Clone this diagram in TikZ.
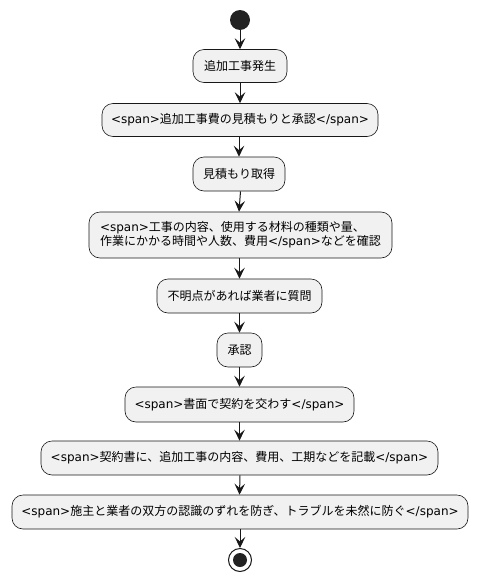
\documentclass[tikz,border=0pt]{standalone}
\usepackage{fontspec}
\setmainfont{Noto Sans CJK JP}
\newfontfamily\dvfont{DejaVu Sans}
\newcommand\dv[1]{{\dvfont #1}}
\usetikzlibrary{arrows.meta}
\definecolor{boxfill}{HTML}{F1F1F1}
\definecolor{boxline}{HTML}{181818}
\definecolor{dotfill}{HTML}{222222}
\tikzset{
  act/.style={draw=boxline, fill=boxfill, line width=0.6pt, rounded corners=11pt,
    minimum height=33pt, inner sep=0pt, font=\fontsize{12}{14}\selectfont, align=center},
  flow/.style={draw=boxline, line width=1pt, -{Stealth[length=11pt,width=10.5pt,inset=4.5pt]}},
}
\begin{document}
\begin{tikzpicture}[x=1pt,y=-1pt]
\useasboundingbox (0,0) rectangle (478,581);
\node[circle, fill=dotfill, minimum size=20pt, inner sep=0pt] (start) at (240,20) {};
\node[act, minimum width=94pt] (a1) at (240,66) {追加工事発生};
\node[act, minimum width=276pt] (a2) at (240,120) {\dv{<span>}追加工事費の見積もりと承認\dv{</span>}};
\node[act, minimum width=92pt, minimum height=34pt] (a3) at (239,174) {見積もり取得};
\node[act, minimum width=303pt, minimum height=46pt, align=left] (a4) at (240.5,235) {\dv{<span>}工事の内容、使用する材料の種類や量、\\作業にかかる時間や人数、費用\dv{</span>}などを確認};
\node[act, minimum width=165pt, minimum height=34pt] (a5) at (239.5,296) {不明点があれば業者に質問};
\node[act, minimum width=45pt, minimum height=34pt] (a6) at (239.5,350) {承認};
\node[act, minimum width=229pt, minimum height=35pt] (a7) at (239.5,404.5) {\dv{<span>}書面で契約を交わす\dv{</span>}};
\node[act, minimum width=397pt, minimum height=34pt] (a8) at (239.5,458) {\dv{<span>}契約書に、追加工事の内容、費用、工期などを記載\dv{</span>}};
\node[act, minimum width=456pt, minimum height=34pt] (a9) at (240,512) {\dv{<span>}施主と業者の双方の認識のずれを防ぎ、トラブルを未然に防ぐ\dv{</span>}};
\node[circle, draw=boxline, fill=white, line width=1pt, minimum size=23pt, inner sep=0pt] (stop) at (240,560) {};
\node[circle, fill=dotfill, minimum size=14pt, inner sep=0pt] (stopdot) at (stop.center) {};
\draw[flow] (start) -- (a1);
\draw[flow] (a1) -- (a2);
\draw[flow] (a2.south -| a3) -- (a3);
\draw[flow] (a3.south -| a4) -- (a4.north -| a3);
\draw[flow] (a4.south -| a5) -- (a5);
\draw[flow] (a5) -- (a6);
\draw[flow] (a6) -- (a7);
\draw[flow] (a7) -- (a8);
\draw[flow] (a8.south -| a9) -- (a9.north -| a8);
\draw[flow] (a9.south -| stop) -- (stop);
\end{tikzpicture}
\end{document}
